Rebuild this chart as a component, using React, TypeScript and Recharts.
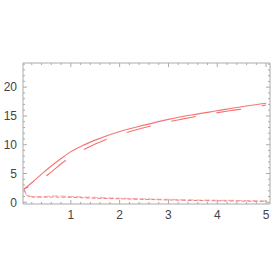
import { LineChart, Line, XAxis, YAxis, ReferenceArea } from "recharts";

const solidX = [0.04, 0.2, 0.4, 0.6, 0.8, 1, 1.25, 1.5, 2, 2.5, 3, 3.5, 4, 4.5, 5];
const solidY = [2.3, 3.4, 4.9, 6.3, 7.6, 8.8, 9.9, 10.8, 12.3, 13.4, 14.4, 15.2, 15.9, 16.6, 17.2];

const longDashX = [0.04, 0.3, 0.5, 0.9, 1.3, 1.75, 2.25, 2.75, 3.25, 3.75, 4.25, 4.75, 5];
const longDashY = [2.3, 3.4, 4.6, 7.3, 9.3, 11.0, 12.4, 13.5, 14.4, 15.2, 15.9, 16.5, 16.9];

const lowPinkX = [0.04, 0.1, 0.2, 0.4, 0.7, 1, 1.5, 2, 2.5, 3, 3.5, 4, 4.5, 5];
const lowPinkY = [2.3, 1.3, 1.0, 0.95, 1.1, 1.0, 0.85, 0.7, 0.6, 0.5, 0.4, 0.35, 0.3, 0.25];

const lowRedX = [0.04, 0.1, 0.2, 0.5, 1, 1.5, 2, 2.5, 3, 3.5, 4, 4.5, 5];
const lowRedY = [2.3, 1.2, 0.9, 0.9, 0.85, 0.7, 0.6, 0.5, 0.4, 0.32, 0.25, 0.2, 0.15];

const xMajor = [1, 2, 3, 4, 5];
const xMinor = [0.2, 0.4, 0.6, 0.8, 1.2, 1.4, 1.6, 1.8, 2.2, 2.4, 2.6, 2.8, 3.2, 3.4, 3.6, 3.8, 4.2, 4.4, 4.6, 4.8];
const yMajor = [0, 5, 10, 15, 20];
const yMinor = [1, 2, 3, 4, 6, 7, 8, 9, 11, 12, 13, 14, 16, 17, 18, 19, 21, 22, 23, 24];

const X_DOMAIN = [0.02, 5.08];
const Y_DOMAIN = [-0.3, 24.2];

const toPoints = (xs: number[], ys: number[]) => xs.map((x, i) => ({ x, y: ys[i] }));

// plot box in px (from chart margins below)
const LEFT = 23, RIGHT = 270, TOP = 63, BOTTOM = 204;
const FRAME = "#aaaaaa";
const TEXT = { fontFamily: "Liberation Sans", fontSize: 12, fill: "#444" };

const XTick = ({ x, y, payload }: any) => {
  const major = xMajor.includes(payload.value);
  const len = major ? 4 : 2;
  const cx = payload.coordinate;
  return (
    <g>
      <line x1={cx} x2={cx} y1={BOTTOM} y2={BOTTOM - len} stroke={FRAME} />
      <line x1={cx} x2={cx} y1={TOP} y2={TOP + len} stroke={FRAME} />
      {major && (
        <text x={x} y={y} dy="0.71em" textAnchor="middle" {...TEXT}>
          {payload.value}
        </text>
      )}
    </g>
  );
};

const YTick = ({ x, y, payload }: any) => {
  const major = yMajor.includes(payload.value);
  const len = major ? 4 : 2;
  const cy = payload.coordinate;
  return (
    <g>
      <line x1={LEFT} x2={LEFT + len} y1={cy} y2={cy} stroke={FRAME} />
      <line x1={RIGHT} x2={RIGHT - len} y1={cy} y2={cy} stroke={FRAME} />
      {major && (
        <text x={x} y={y} dy="0.355em" textAnchor="end" {...TEXT}>
          {payload.value}
        </text>
      )}
    </g>
  );
};

export default function App() {
  return (
    <div style={{ position: "absolute", left: 0, top: 0 }}>
      <LineChart width={273} height={272} margin={{ top: TOP, right: 273 - RIGHT, bottom: 48, left: 0 }}>
        <XAxis xAxisId="b" type="number" dataKey="x" domain={X_DOMAIN} allowDataOverflow
          ticks={[...xMinor, ...xMajor].sort((a, b) => a - b)} interval={0}
          height={20} tick={<XTick />} tickLine={false} tickSize={4} tickMargin={2} axisLine={false} />
        <YAxis yAxisId="l" type="number" dataKey="y" domain={Y_DOMAIN} allowDataOverflow
          ticks={[...yMinor, ...yMajor].sort((a, b) => a - b)} interval={0}
          width={LEFT} tick={<YTick />} tickLine={false} tickSize={4} tickMargin={2} axisLine={false} />

        {/* frame */}
        <ReferenceArea xAxisId="b" yAxisId="l" x1={X_DOMAIN[0]} x2={X_DOMAIN[1]} y1={Y_DOMAIN[0]} y2={Y_DOMAIN[1]}
          fill="none" fillOpacity={0} stroke={FRAME} strokeOpacity={1} ifOverflow="visible" />

        <Line xAxisId="b" yAxisId="l" data={toPoints(lowPinkX, lowPinkY)} dataKey="y" type="monotone"
          stroke="#f9b8b8" strokeWidth={1.2} strokeDasharray="6 2" dot={false} isAnimationActive={false} />
        <Line xAxisId="b" yAxisId="l" data={toPoints(lowRedX, lowRedY)} dataKey="y" type="monotone"
          stroke="#f08080" strokeWidth={1} strokeDasharray="4 2" dot={false} isAnimationActive={false} />
        <Line xAxisId="b" yAxisId="l" data={toPoints(longDashX, longDashY)} dataKey="y" type="monotone"
          stroke="#f47474" strokeWidth={1.1} strokeDasharray="25 21" strokeDashoffset={20} dot={false} isAnimationActive={false} />
        <Line xAxisId="b" yAxisId="l" data={toPoints(solidX, solidY)} dataKey="y" type="monotone"
          stroke="#f47474" strokeWidth={1.1} dot={false} isAnimationActive={false} />
      </LineChart>
    </div>
  );
}
